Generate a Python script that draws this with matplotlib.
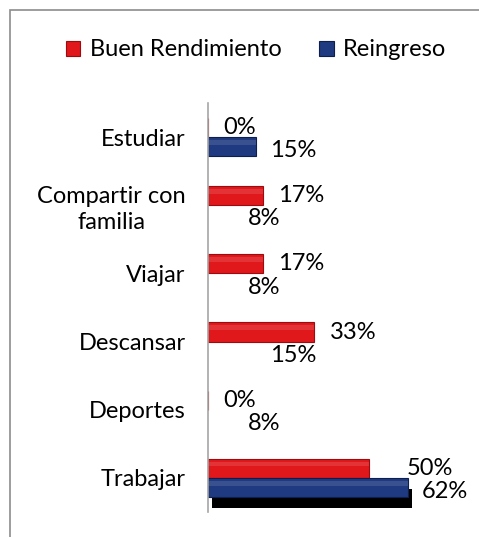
import matplotlib
matplotlib.use('Agg')
import matplotlib.pyplot as plt
import matplotlib.patheffects as pe
from matplotlib.patches import Rectangle
import numpy as np

plt.rcParams['font.family'] = ['Lato', 'DejaVu Sans']

# datos (de arriba hacia abajo)
categorias = ['Estudiar', 'Compartir con\nfamilia', 'Viajar', 'Descansar', 'Deportes', 'Trabajar']
buen_rendimiento = [0, 17, 17, 33, 0, 50]
reingreso = [15, 8, 8, 15, 8, 62]
# en el original solo se ven algunas barras azules
reingreso_visible = [True, False, False, False, False, True]
# ajuste extra de la etiqueta roja (pt)
nudge_rojo = [0, 0, 0, 0, 0, 16]

rojo = '#e0171b'
rojo_borde = '#9c0b0e'
azul = '#1f3a80'
azul_borde = '#0e1f4d'
fs = 17

fig = plt.figure(figsize=(4.79, 5.37), dpi=100)
# marco gris del grafico
fig.patches.append(Rectangle((10 / 479, -0.05), 1.1, 1 - 10 / 537 + 0.05,
                             transform=fig.transFigure, fill=False,
                             edgecolor='#8c8c8c', linewidth=1.2))

ax = fig.add_axes([208 / 479, 25 / 537, 1 - 208 / 479, 409 / 537])
y = np.arange(len(categorias))
h = 0.28

barras_r = ax.barh(y - h / 2, buen_rendimiento, height=h, color=rojo,
                   edgecolor=rojo_borde, linewidth=0.8)
anchos_az = [v if vis else 0 for v, vis in zip(reingreso, reingreso_visible)]
barras_a = ax.barh(y + h / 2, anchos_az, height=h, color=azul,
                   edgecolor=azul_borde, linewidth=0.8)
for b, vis in zip(barras_a, reingreso_visible):
    if not vis:
        b.set_visible(False)
# sombra negra en la barra azul de Trabajar
barras_a[-1].set_path_effects([pe.SimplePatchShadow(offset=(3, -8), shadow_rgbFace='black', alpha=1.0),
                               pe.Normal()])

# brillo suave en las barras
for b in list(barras_r) + list(barras_a):
    if b.get_visible() and b.get_width() > 0:
        ax.add_patch(Rectangle((b.get_x(), b.get_y() + b.get_height() * 0.15),
                               b.get_width(), b.get_height() * 0.25,
                               color='white', alpha=0.12, linewidth=0))

for i, (vr, va) in enumerate(zip(buen_rendimiento, reingreso)):
    ax.annotate(f'{vr}%', (vr, i - h / 2), xytext=(11 + nudge_rojo[i], 0),
                textcoords='offset points', ha='left', va='center', fontsize=fs)
    ax.annotate(f'{va}%', (va, i + h / 2 + 0.06), xytext=(10, 0),
                textcoords='offset points', ha='left', va='center', fontsize=fs)

ax.set_xlim(0, (479 - 208) / 3.22)
ax.set_ylim(len(categorias) - 0.5, -0.5)
ax.set_yticks(y)
ax.set_yticklabels(categorias, fontsize=fs, multialignment='center', linespacing=1.3)
ax.tick_params(axis='y', length=0, pad=16)
ax.set_xticks([])
for s in ['top', 'right', 'bottom']:
    ax.spines[s].set_visible(False)
ax.spines['left'].set_color('#a6a6a6')
ax.spines['left'].set_linewidth(1.2)

leg = fig.legend([barras_r[0], barras_a[0]], ['Buen Rendimiento', 'Reingreso'],
                 loc='center', bbox_to_anchor=(0.535, 1 - 50 / 537), ncol=2,
                 frameon=False, fontsize=fs, handlelength=0.6, handleheight=0.6,
                 handletextpad=0.4, columnspacing=1.6)

fig.savefig('out.png', dpi=100)
